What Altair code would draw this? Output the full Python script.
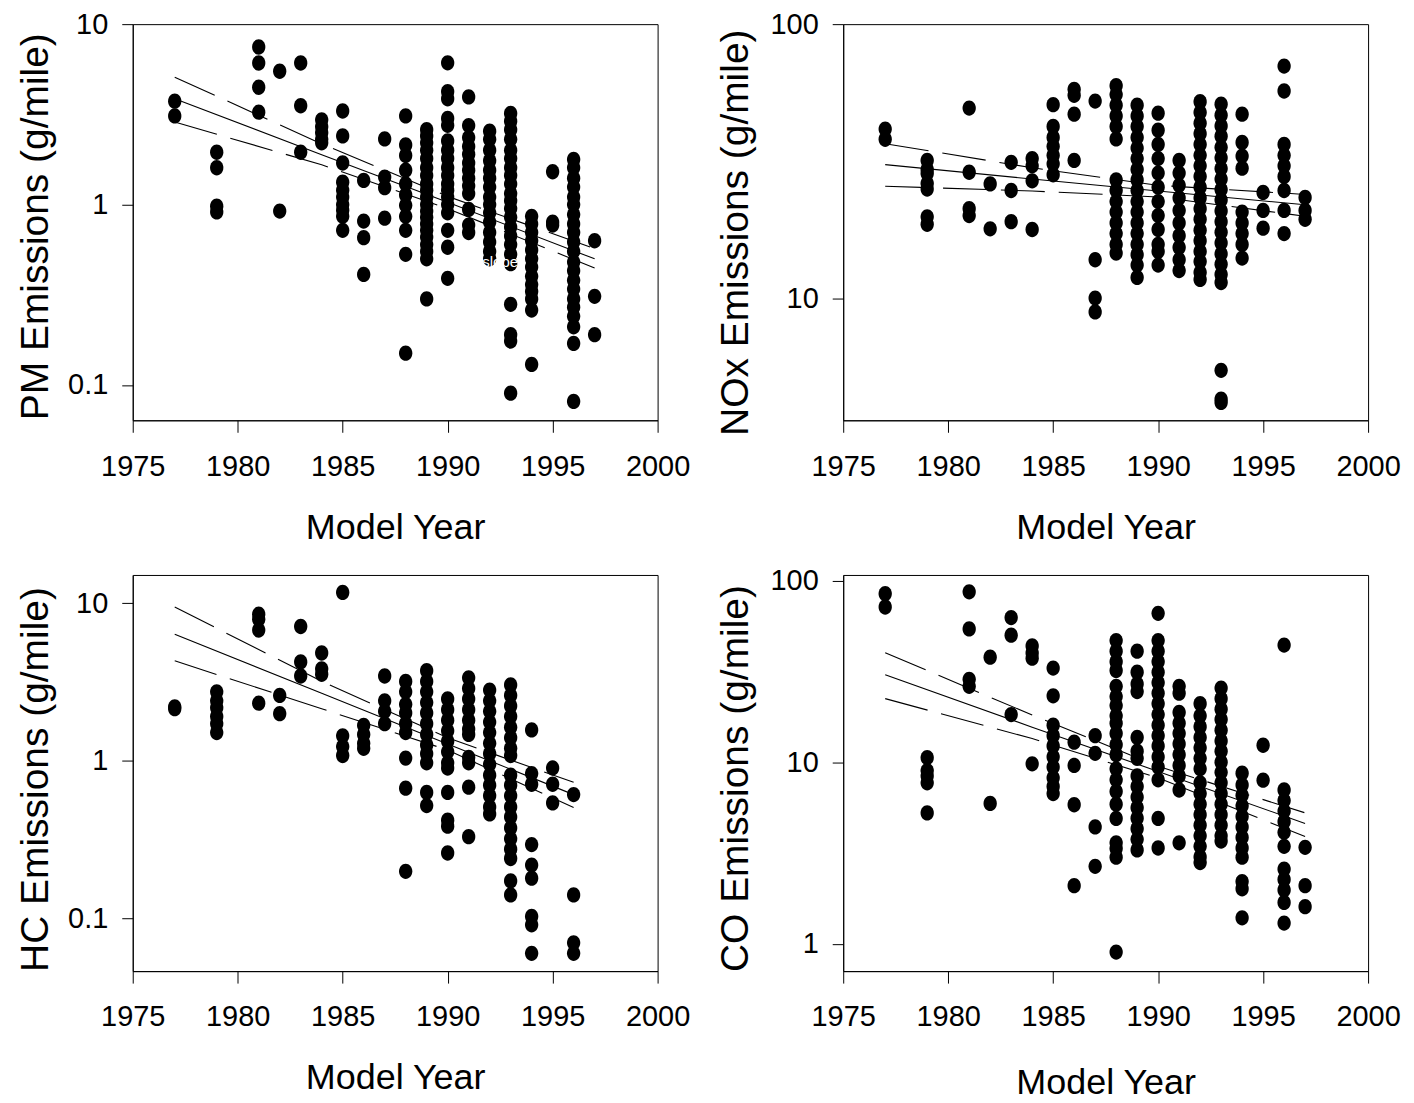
import altair as alt
import pandas as pd

FONT = "Liberation Sans"
ELLIPSE = "M-0.87,0A0.87,1,0,1,0,0.87,0A0.87,1,0,1,0,-0.87,0Z"

x_ticks = [1975, 1980, 1985, 1990, 1995, 2000]

# ---------------- PM ----------------
pm_points = {
    1977: [3.74, 3.1],
    1979: [1.95, 1.6, 0.98, 0.91],
    1981: [7.47, 6.09, 4.47, 3.25],
    1982: [5.48, 0.92],
    1983: [6.09, 3.53, 1.95],
    1984: [2.95, 2.7, 2.5, 2.3, 2.2],
    1985: [3.3, 2.4, 1.7, 1.33, 1.2, 1.1, 1.0, 0.93, 0.86, 0.72],
    1986: [1.36, 0.81, 0.655, 0.41],
    1987: [2.31, 1.42, 1.24, 0.84],
    1988: [3.1, 2.14, 1.87, 1.55, 1.3, 1.13, 0.99, 0.86, 0.72, 0.53, 0.15],
    1989: [2.6, 2.4, 2.2, 2.0, 1.8, 1.6, 1.45, 1.3, 1.2, 1.1, 1.0, 0.92, 0.85,
           0.78, 0.72, 0.66, 0.6, 0.55, 0.5, 0.3],
    1990: [6.1, 4.23, 3.86, 3.0, 2.75, 2.25, 2.0, 1.8, 1.6, 1.45, 1.3, 1.2, 1.1,
           1.0, 0.9, 0.72, 0.58, 0.39],
    1991: [3.95, 2.74, 2.35, 2.1, 1.9, 1.7, 1.55, 1.4, 1.27, 1.15, 0.94, 0.77, 0.7],
    1992: [2.55, 2.3, 2.0, 1.75, 1.55, 1.4, 1.25, 1.1, 1.0, 0.9, 0.8, 0.7, 0.62,
           0.55, 0.5],
    1993: [3.2, 2.9, 2.6, 2.3, 2.0, 1.8, 1.6, 1.45, 1.3, 1.15, 1.05, 0.95, 0.85,
           0.75, 0.67, 0.6, 0.53, 0.47, 0.28, 0.19, 0.175, 0.09],
    1994: [0.86, 0.78, 0.7, 0.63, 0.56, 0.5, 0.45, 0.4, 0.36, 0.33, 0.3, 0.26, 0.13],
    1995: [1.52, 0.8, 0.77],
    1996: [1.78, 1.6, 1.4, 1.25, 1.1, 1.0, 0.88, 0.78, 0.7, 0.62, 0.55, 0.48, 0.43,
           0.38, 0.34, 0.3, 0.27, 0.24, 0.21, 0.17, 0.081],
    1997: [0.63, 0.31, 0.19],
}
pm_fit_years = [1977, 1984, 1990, 1997]
pm_fit = [3.86, 1.89, 1.03, 0.50]
pm_upper = [5.08, 2.17, 1.11, 0.57]
pm_lower = [2.87, 1.66, 0.95, 0.445]

# ---------------- NOx ----------------
nox_points = {
    1977: [41.4, 38.0],
    1979: [31.8, 29.5, 28.5, 26.2, 25.0, 19.8, 18.6],
    1981: [49.4, 28.8, 21.2, 20.0],
    1982: [26.1, 17.9],
    1983: [31.3, 24.7, 19.0],
    1984: [32.3, 30.4, 26.8, 17.8],
    1985: [50.8, 42.3, 38.6, 35.8, 33.2, 30.9, 28.2],
    1986: [57.8, 55.0, 46.9, 31.8],
    1987: [52.4, 13.8, 10.0, 8.9],
    1988: [59.6, 55.3, 50.6, 46.2, 42.3, 38.1, 27.0, 24.7, 22.5, 20.6, 18.8, 17.2,
           15.7, 14.6],
    1989: [50.6, 46.2, 42.3, 38.6, 35.3, 32.3, 29.5, 27.0, 24.7, 22.5, 20.6, 18.8,
           17.2, 15.7, 14.4, 13.2, 11.9],
    1990: [47.3, 41.0, 36.4, 32.3, 28.6, 25.4, 22.5, 20.0, 17.8, 15.7, 14.8, 13.2],
    1991: [31.8, 28.6, 25.8, 23.2, 20.9, 18.8, 16.9, 15.3, 13.8, 12.6],
    1992: [52.1, 47.6, 43.5, 39.8, 36.4, 33.2, 30.4, 27.8, 25.4, 23.2, 21.2, 19.4,
           17.7, 16.2, 14.8, 13.6, 12.4, 11.7],
    1993: [51.0, 46.5, 42.5, 39.0, 35.5, 32.5, 29.7, 27.2, 24.9, 22.8, 20.8, 19.0,
           17.4, 15.9, 14.5, 13.3, 12.2, 11.4, 5.45, 4.28, 4.16],
    1994: [46.9, 37.0, 33.0, 29.8, 20.6, 18.8, 17.2, 15.7, 14.0],
    1995: [24.3, 20.9, 18.0],
    1996: [70.3, 57.0, 36.4, 33.2, 30.4, 27.8, 24.7, 20.9, 17.2],
    1997: [23.3, 20.9, 19.4],
}
nox_fit_years = [1977, 1984, 1990, 1997]
nox_fit = [30.7, 27.2, 24.6, 21.9]
nox_upper = [36.6, 29.9, 25.8, 23.9]
nox_lower = [25.6, 24.6, 23.4, 19.9]

# ---------------- HC ----------------
hc_points = {
    1977: [2.14, 2.2],
    1979: [2.74, 2.4, 2.17, 1.91, 1.72, 1.51],
    1981: [8.52, 7.9, 6.75, 2.32],
    1982: [2.6, 1.99],
    1983: [7.11, 4.24, 3.45],
    1984: [4.83, 3.83, 3.54],
    1985: [11.7, 1.44, 1.23, 1.08],
    1986: [1.68, 1.47, 1.29, 1.2],
    1987: [3.45, 2.4, 2.06, 1.72],
    1988: [3.19, 2.74, 2.28, 2.01, 1.72, 1.51, 1.04, 0.67, 0.199],
    1989: [3.73, 3.19, 2.74, 2.34, 2.01, 1.72, 1.47, 1.26, 1.11, 0.97, 0.63, 0.52],
    1990: [2.47, 2.11, 1.81, 1.55, 1.33, 1.14, 0.97, 0.9, 0.63, 0.42, 0.385, 0.26],
    1991: [3.36, 2.88, 2.47, 2.11, 1.81, 1.59, 1.47, 1.05, 0.97, 0.68, 0.33],
    1992: [2.81, 2.4, 2.06, 1.76, 1.51, 1.29, 1.11, 0.95, 0.81, 0.7, 0.6, 0.51, 0.46],
    1993: [3.03, 2.6, 2.23, 1.91, 1.63, 1.4, 1.2, 1.08, 0.81, 0.7, 0.6, 0.51, 0.44,
           0.375, 0.32, 0.275, 0.24, 0.173, 0.141],
    1994: [1.57, 0.83, 0.71, 0.294, 0.218, 0.18, 0.103, 0.091, 0.06],
    1995: [0.9, 0.71, 0.54],
    1996: [0.61, 0.141, 0.07, 0.06],
}
hc_fit_years = [1977, 1984, 1990, 1996]
hc_fit = [6.35, 2.68, 1.28, 0.61]
hc_upper = [9.45, 3.19, 1.40, 0.73]
hc_lower = [4.31, 2.14, 1.17, 0.505]

# ---------------- CO ----------------
co_points = {
    1977: [84.7, 71.6],
    1979: [10.6, 9.0, 8.4, 7.7, 5.26],
    1981: [86.8, 54.2, 28.6, 26.2],
    1982: [37.9, 5.93],
    1983: [62.6, 50.1, 18.3],
    1984: [43.7, 40.0, 37.4, 9.8],
    1985: [33.0, 23.2, 16.0, 14.0, 12.3, 10.7, 9.4, 8.2, 7.35, 6.72],
    1986: [12.9, 9.6, 5.83, 2.09],
    1987: [14.0, 11.2, 4.4, 2.67],
    1988: [46.8, 40.9, 35.8, 32.0, 26.2, 23.0, 20.5, 18.0, 16.4, 14.4, 12.5, 11.0,
           9.2, 8.0, 6.9, 5.87, 4.9, 3.6, 3.35, 3.0, 0.9],
    1989: [40.9, 31.3, 27.0, 24.5, 13.7, 11.5, 10.5, 8.4, 7.35, 6.43, 5.62, 4.92,
           4.3, 3.76, 3.29],
    1990: [66.1, 46.8, 40.9, 35.8, 31.3, 27.4, 24.0, 21.0, 18.3, 16.0, 14.0, 12.3,
           10.7, 9.4, 8.0, 4.9, 3.37],
    1991: [26.2, 24.0, 18.8, 16.4, 14.4, 12.6, 11.0, 9.6, 8.4, 7.03, 3.6],
    1992: [21.0, 18.0, 15.7, 13.7, 12.0, 10.5, 9.2, 7.7, 6.72, 5.87, 5.14, 4.5,
           3.93, 3.44, 3.01, 2.8],
    1993: [25.6, 22.4, 19.6, 17.2, 15.0, 13.1, 11.5, 10.0, 8.8, 7.7, 6.72, 5.87,
           5.14, 4.5, 3.93, 3.68],
    1994: [8.7, 7.5, 6.57, 5.75, 5.03, 4.4, 3.85, 3.37, 3.0, 2.2, 2.01, 1.39],
    1995: [12.4, 7.96],
    1996: [44.2, 7.03, 6.15, 5.38, 4.7, 4.11, 3.44, 2.58, 2.26, 1.98, 1.69, 1.3],
    1997: [3.4, 2.09, 1.6],
}
co_fit_years = [1977, 1984, 1990, 1997]
co_fit = [30.3, 15.6, 8.9, 4.6]
co_upper = [40.1, 18.2, 9.5, 5.26]
co_lower = [22.4, 13.5, 8.2, 3.9]

W, H = 526, 397


def panel(points, fit_years, fit, upper, lower, ytitle, ydomain, yticks,
          title_x, title_y, xtitle_y, note=None):
    pts = pd.DataFrame([{"year": yr, "value": v}
                        for yr, vals in points.items() for v in vals])
    fit_df = pd.DataFrame({"year": fit_years, "value": fit})
    band_df = pd.concat([
        pd.DataFrame({"year": fit_years, "value": upper, "band": "upper"}),
        pd.DataFrame({"year": fit_years, "value": lower, "band": "lower"}),
    ])
    x = alt.X("year:Q",
              scale=alt.Scale(domain=[1975, 2000], nice=False, zero=False),
              axis=alt.Axis(values=x_ticks, format="d", title="Model Year",
                            tickSize=12, labelPadding=20,
                            titleY=xtitle_y, titleBaseline="middle"))
    y = alt.Y("value:Q",
              scale=alt.Scale(type="log", domain=ydomain, nice=False),
              axis=alt.Axis(values=yticks, format="~g", title=ytitle,
                            tickSize=11, labelPadding=14, titleFontSize=39,
                            titleAngle=270, titleX=title_x, titleY=title_y,
                            titleBaseline="middle", titleAlign="center"))
    layers = [
        alt.Chart(pts).mark_point(shape=ELLIPSE, filled=True, color="black",
                                  size=235, opacity=1, strokeWidth=0)
        .encode(x=x, y=y),
        alt.Chart(fit_df).mark_line(color="black", strokeWidth=1.1)
        .encode(x=x, y=y),
        alt.Chart(band_df).mark_line(color="black", strokeWidth=1.1,
                                     strokeDash=[44, 14])
        .encode(x=x, y=y, detail="band:N"),
    ]
    if note is not None:
        layers.append(
            alt.Chart(pd.DataFrame({"year": [note[0]], "value": [note[1]],
                                    "t": [note[2]]}))
            .mark_text(color="white", font=FONT, fontSize=15)
            .encode(x=x, y=y, text="t:N"))
    return alt.layer(*layers).properties(width=W, height=H)


p1 = panel(pm_points, pm_fit_years, pm_fit, pm_upper, pm_lower,
           "PM Emissions (g/mile)", [0.0637, 10], [0.1, 1, 10],
           -97, H / 2 + 4, 107, note=(1992.5, 0.478, "slope"))
p2 = panel(nox_points, nox_fit_years, nox_fit, nox_upper, nox_lower,
           "NOx Emissions (g/mile)", [3.58, 100], [10, 100],
           -108, H / 2 + 10, 107)
p3 = panel(hc_points, hc_fit_years, hc_fit, hc_upper, hc_lower,
           "HC Emissions (g/mile)", [0.0463, 15.1], [0.1, 1, 10],
           -97, H / 2 + 6, 107)
p4 = panel(co_points, co_fit_years, co_fit, co_upper, co_lower,
           "CO Emissions (g/mile)", [0.707, 107.5], [1, 10, 100],
           -108, H / 2 + 5, 112)

chart = alt.concat(p1, p2, p3, p4, columns=2,
                   spacing={"row": 155, "column": 186}, bounds="flush") \
    .properties(padding={"left": 8, "top": 0, "right": 5, "bottom": 5}) \
    .configure_view(stroke="black", strokeWidth=1) \
    .configure_axis(grid=False, domainColor="black", tickColor="black",
                    labelColor="black", titleColor="black",
                    labelFont=FONT, titleFont=FONT, labelFontSize=29,
                    titleFontSize=36, titleFontWeight="normal",
                    domainWidth=1, tickWidth=1, labelFlush=False,
                    labelOverlap=False)

chart.save("out.html", embed_options={"renderer": "svg", "actions": False})
